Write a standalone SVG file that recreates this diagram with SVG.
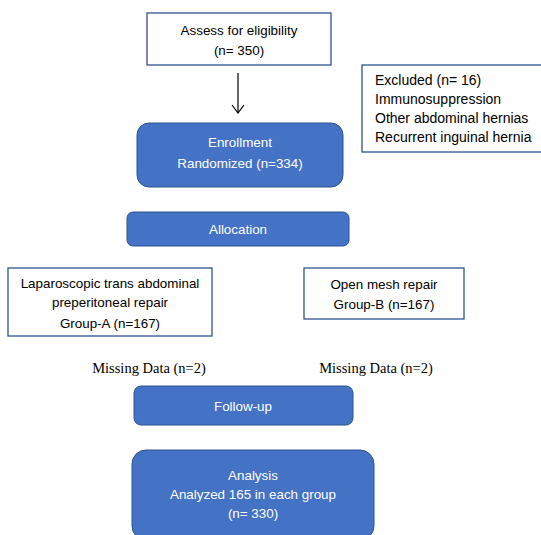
<svg xmlns="http://www.w3.org/2000/svg" width="541" height="535" viewBox="0 0 541 535">
<defs>
<style>
.wbox{fill:#ffffff;stroke:#2F528F;stroke-width:1.3}
.bbox{fill:#4472C4;stroke:#2F528F;stroke-width:1}
.t{font-family:"Liberation Sans",Arial,sans-serif;font-size:13.4px;fill:#000}
.tx{font-family:"Liberation Sans",Arial,sans-serif;font-size:14px;fill:#000}
.tw{font-family:"Liberation Sans",Arial,sans-serif;font-size:13.4px;fill:#ffffff}
.s{font-family:"Liberation Serif","Times New Roman",serif;font-size:14.5px;fill:#000}
.c{text-anchor:middle}
.ln{stroke:#000;stroke-width:1.2;fill:none}
</style>
</defs>
<rect width="541" height="535" fill="#ffffff"/>
<g id="connectors">
<line class="ln" x1="238" y1="73" x2="238" y2="113"/>
<polyline class="ln" points="232,105 238,113 244,105"/>
</g>
<g id="assess">
<rect class="wbox" x="147" y="13" width="184" height="52"/>
<text class="t c" x="239" y="35">Assess for eligibility</text>
<text class="t c" x="239" y="55">(n= 350)</text>
</g>
<g id="excluded">
<rect class="wbox" x="362" y="65" width="180" height="87"/>
<text class="tx" x="375" y="85">Excluded (n= 16)</text>
<text class="tx" x="375" y="104">Immunosuppression</text>
<text class="tx" x="375" y="123">Other abdominal hernias</text>
<text class="tx" x="375" y="142">Recurrent inguinal hernia</text>
</g>
<g id="enrollment">
<rect class="bbox" x="137" y="123" width="206" height="64" rx="12"/>
<text class="tw c" x="240" y="147">Enrollment</text>
<text class="tw c" x="240" y="168">Randomized (n=334)</text>
</g>
<g id="allocation">
<rect class="bbox" x="127" y="212" width="222" height="34" rx="6"/>
<text class="tw c" x="238" y="234">Allocation</text>
</g>
<g id="groupA">
<rect class="wbox" x="8" y="268" width="204" height="68"/>
<text class="t c" x="110" y="288">Laparoscopic trans abdominal</text>
<text class="t c" x="110" y="307">preperitoneal repair</text>
<text class="t c" x="110" y="328">Group-A (n=167)</text>
</g>
<g id="groupB">
<rect class="wbox" x="304" y="268" width="160" height="51"/>
<text class="t c" x="384" y="289">Open mesh repair</text>
<text class="t c" x="384" y="309">Group-B (n=167)</text>
</g>
<g id="missingA">
<text class="s c" x="149" y="373">Missing Data (n=2)</text>
</g>
<g id="missingB">
<text class="s c" x="376" y="373">Missing Data (n=2)</text>
</g>
<g id="followup">
<rect class="bbox" x="134" y="386" width="219" height="39" rx="7"/>
<text class="tw c" x="243" y="411">Follow-up</text>
</g>
<g id="analysis">
<rect class="bbox" x="132" y="450" width="242" height="90" rx="14"/>
<text class="tw c" x="253" y="480">Analysis</text>
<text class="tw c" x="253" y="499">Analyzed 165 in each group</text>
<text class="tw c" x="253" y="518">(n= 330)</text>
</g>
</svg>
